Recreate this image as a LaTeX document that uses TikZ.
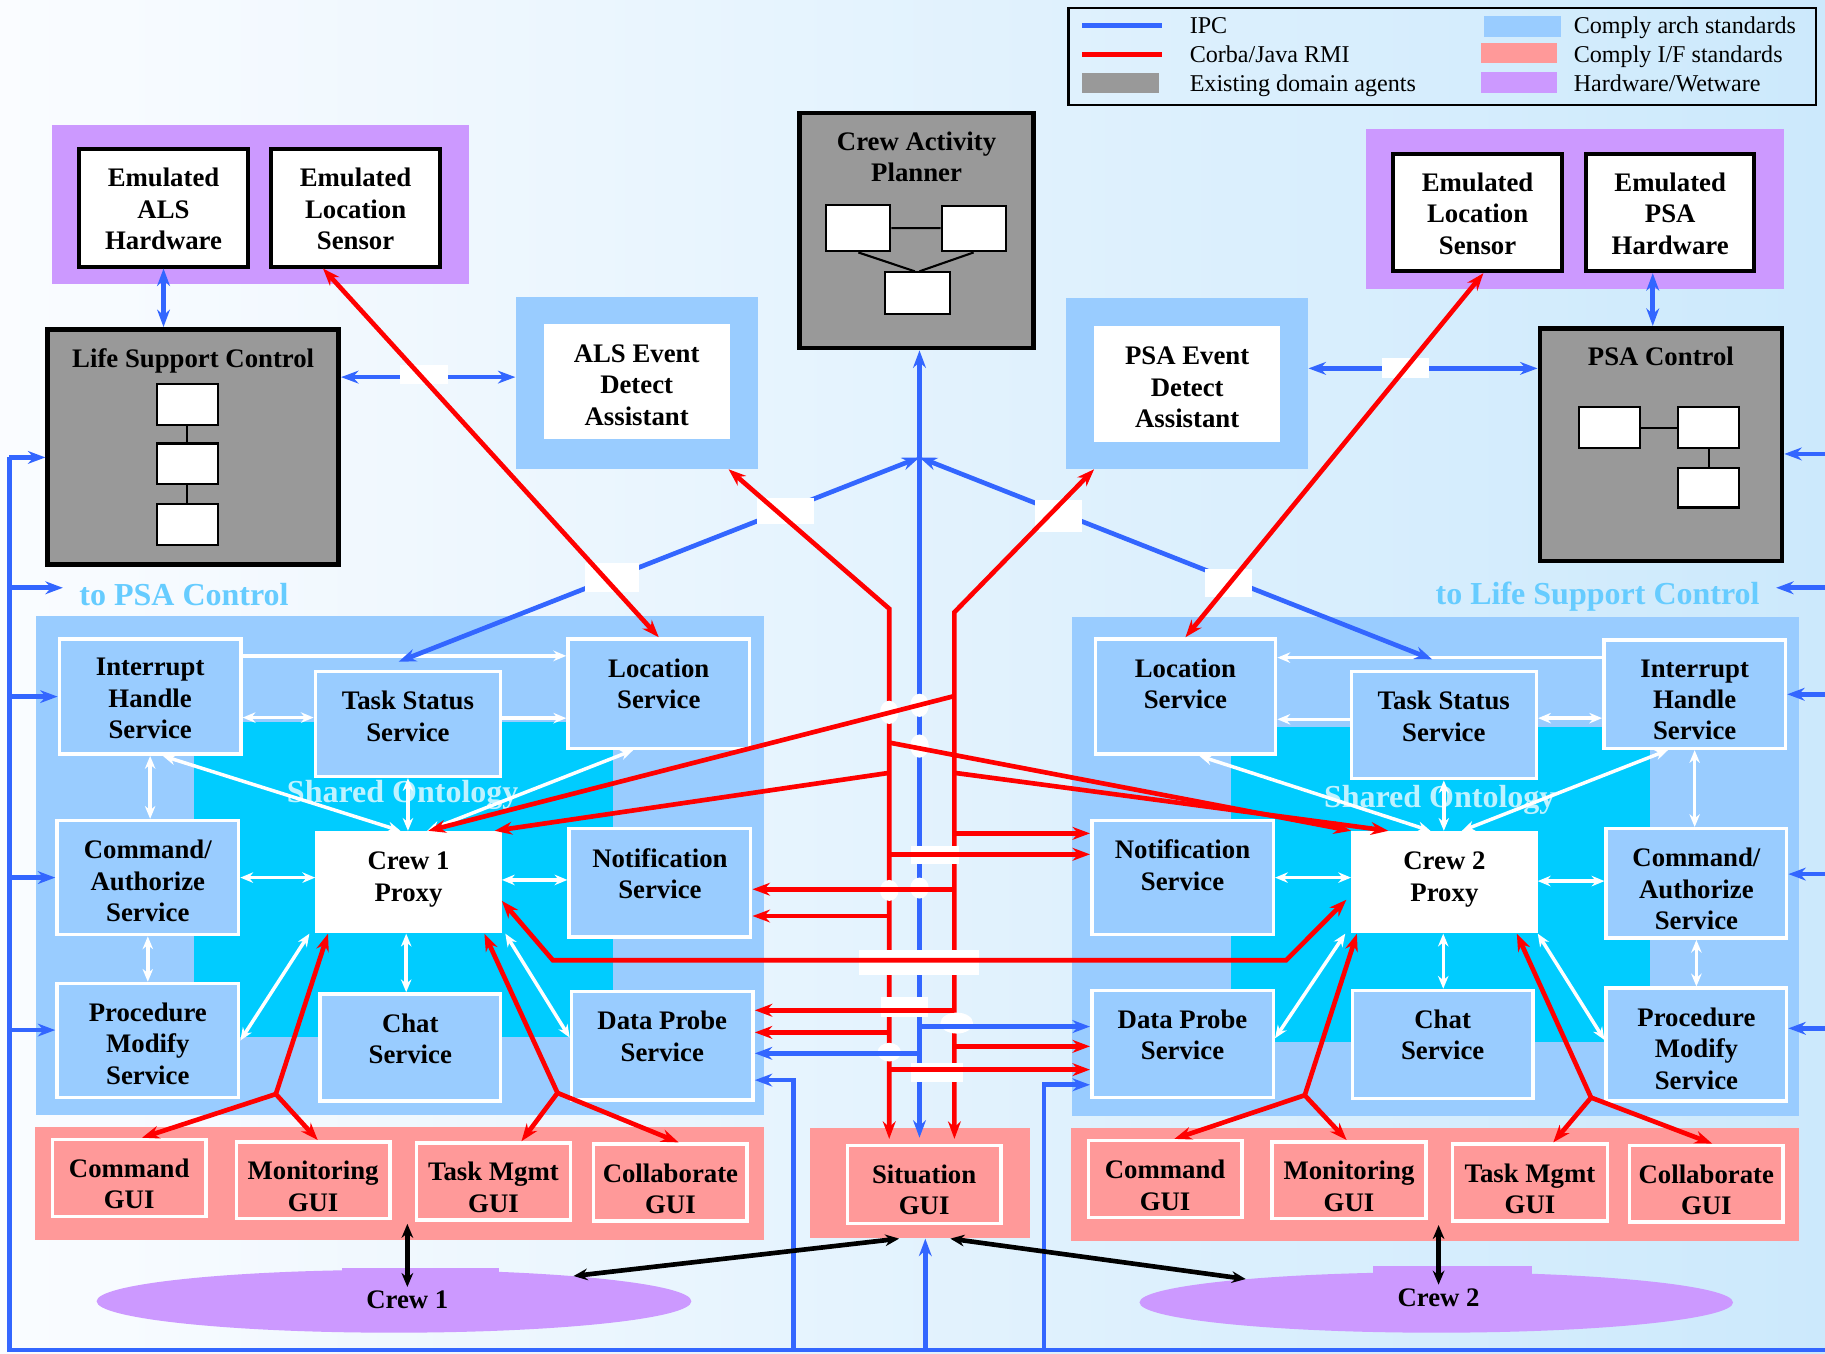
\documentclass[tikz,border=0pt]{standalone}
\usepackage{fontspec}
\setmainfont{Liberation Serif}
\usetikzlibrary{arrows.meta,shapes.geometric,calc}

\definecolor{archblue}{HTML}{99CCFF}
\definecolor{ifpink}{HTML}{FF9999}
\definecolor{hwpurple}{HTML}{CC99FF}
\definecolor{agentgray}{HTML}{999999}
\definecolor{ontocyan}{HTML}{00CCFF}
\definecolor{ipcblue}{HTML}{3366FF}
\definecolor{rmired}{HTML}{FF0000}
\definecolor{notecyan}{HTML}{66CCFF}
\definecolor{bgleft}{RGB}{250,252,255}
\definecolor{bgright}{RGB}{204,233,252}

\newcommand{\svcfont}{\bfseries\fontsize{23}{27}\selectfont}
\newcommand{\keyfont}{\fontsize{20.7}{25}\selectfont}
\newcommand{\notefont}{\bfseries\fontsize{27.5}{33}\selectfont}

\begin{document}
\begin{tikzpicture}[x=1pt, y=-1pt,
  lbl/.style={anchor=north, align=center, inner sep=0pt, font=\svcfont, yshift=-18pt},
  agent/.style={draw=black, line width=4pt, fill=agentgray, inner sep=0pt},
  emul/.style={draw=black, line width=3.4pt, fill=white, inner sep=0pt, minimum width=145, minimum height=101},
  mini/.style={draw=black, line width=1.8pt, fill=white, inner sep=0pt, minimum width=52, minimum height=35},
  frame/.style={fill=archblue, inner sep=0pt, minimum width=208},
  eda/.style={fill=white, inner sep=0pt, minimum width=160, minimum height=100},
  svc/.style={draw=white, line width=3pt, fill=archblue, inner sep=0pt, minimum width=156},
  proxy/.style={fill=white, inner sep=0pt, minimum width=160, minimum height=88},
  gui/.style={draw=white, line width=3pt, fill=ifpink, inner sep=0pt, minimum width=132, minimum height=66},
  pool/.style={ellipse, fill=hwpurple, inner sep=0pt},
  key/.style={anchor=base west, font=\keyfont, inner sep=0pt},
  note/.style={inner sep=0pt, font=\notefont, text=notecyan},
  onto/.style={draw=white, line width=3pt, >={Stealth[length=11pt,width=9pt]}},
  ipc/.style={draw=ipcblue, line width=4pt, >={Stealth[length=15pt,width=11pt]}},
  rmi/.style={draw=rmired, line width=4pt, >={Stealth[length=15pt,width=11pt]}},
  talk/.style={draw=black, line width=4pt, >={Stealth[length=12pt,width=10pt]}},
  gap/.style={fill=white}]
\useasboundingbox (0,0) rectangle (1568,1163);
% background and panels
\shade[left color=bgleft, right color=bgright] (0,0) rectangle (1568,1163);
\fill[hwpurple] (45,107) rectangle (403,244);
\fill[hwpurple] (1174,111) rectangle (1533,248);
\fill[archblue] (31,529) rectangle (656,958);
\fill[archblue] (921,530) rectangle (1546,959);
\fill[ontocyan] (167,620) rectangle (527,891);
\fill[ontocyan] (1058,625) rectangle (1418,895);
\fill[ifpink] (30,968) rectangle (656,1065);
\fill[ifpink] (920,969) rectangle (1546,1066);

% legend
\node[draw=black, line width=1.8pt, inner sep=0pt, minimum width=642, minimum height=83] (legend) at (1239,48.5) {};
\draw[ipcblue, line width=4.5pt] (930,22) -- (998,22);
\draw[rmired, line width=4.5pt] (930,47) -- (998,47);
\fill[agentgray] (930,63) rectangle (996,80);
\fill[archblue] (1275,14) rectangle (1341,32);
\fill[ifpink] (1272,37) rectangle (1338,54);
\fill[hwpurple] (1272,62) rectangle (1338,80);
\node[key] (kIPC) at (1022,29) {IPC};
\node[key] (kRMI) at (1022,54) {Corba/Java RMI};
\node[key] (kOld) at (1022,79) {Existing domain agents};
\node[key] (kArch) at (1352,29) {Comply arch standards};
\node[key] (kIF) at (1352,54) {Comply I/F standards};
\node[key] (kHW) at (1352,79) {Hardware/Wetware};

% life support side
\node[emul, label={[lbl]north:Emulated\\ALS\\Hardware}] (alsHW) at (140.5,178.5) {};
\node[emul, label={[lbl]north:Emulated\\Location\\Sensor}] (locSensL) at (305.5,178.5) {};
\node[agent, minimum width=250, minimum height=202, label={[lbl]north:Life Support Control}] (lsc) at (166,384) {};
\node[mini] (lsA) at (161,347.5) {};
\node[mini] (lsB) at (161,398.5) {};
\node[mini] (lsC) at (161,450.5) {};
\draw[line width=1.8pt] (lsA) -- (lsB) (lsB) -- (lsC);
\node[frame, minimum height=148] (alsFrame) at (547,329) {};
\node[eda, minimum height=99, label={[lbl]north:ALS Event\\Detect\\Assistant}] (alsEDA) at (547,327.5) {};

% planner
\node[agent, minimum width=201, minimum height=202, label={[lbl]north:Crew Activity\\Planner}] (cap) at (787.5,198) {};
\node[mini, minimum width=55, minimum height=40] (capA) at (737.5,196) {};
\node[mini, minimum width=55, minimum height=39] (capB) at (836.5,196.5) {};
\node[mini, minimum width=56, minimum height=36] (capC) at (788,252) {};
\draw[line width=1.8pt] (capA.east) -- (capA.east -| capB.west)
  (capA.south) -- ([xshift=-2pt]capC.north)
  (capB.south) -- ([xshift=2pt]capC.north);

% PSA side
\node[emul, label={[lbl]north:Emulated\\Location\\Sensor}] (locSensR) at (1269.5,182.5) {};
\node[emul, minimum width=144, label={[lbl]north:Emulated\\PSA\\Hardware}] (psaHW) at (1435,182.5) {};
\node[agent, minimum width=208, minimum height=200, label={[lbl]north:PSA Control}] (psaCtl) at (1427,382) {};
\node[mini] (psA) at (1383,367.5) {};
\node[mini] (psB) at (1468,367.5) {};
\node[mini, minimum height=34] (psC) at (1468,419) {};
\draw[line width=1.8pt] (psA) -- (psB) (psB) -- (psC);
\node[frame, minimum height=147] (psaFrame) at (1020,329.5) {};
\node[eda, label={[lbl]north:PSA Event\\Detect\\Assistant}] (psaEDA) at (1020,330) {};

\node[note, anchor=west] (toPSA) at (68,511) {to PSA Control};
\node[note, anchor=east] (toLSC) at (1512,513) {to Life Support Control};

% crew 1 services
\node[svc, minimum height=99, label={[lbl]north:Interrupt\\Handle\\Service}] (intL) at (129,598.5) {};
\node[svc, minimum width=159, minimum height=90, label={[lbl]north:Task Status\\Service}] (tskL) at (350.5,622) {};
\node[svc, minimum height=94, label={[lbl]north:Location\\Service}] (locL) at (566,596) {};
\node[svc, minimum height=98, label={[lbl]north:Command/\\Authorize\\Service}] (cmdL) at (127,754) {};
\node[proxy, label={[lbl]north:Crew 1\\Proxy}] (crew1) at (351,758) {};
\node[svc, minimum height=93, label={[lbl]north:Notification\\Service}] (ntfL) at (567,758.5) {};
\node[svc, minimum height=98, label={[lbl]north:Procedure\\Modify\\Service}] (prcL) at (127,894) {};
\node[svc, minimum width=155, minimum height=92, label={[lbl]north:Chat\\Service}] (chatL) at (352.5,900) {};
\node[svc, minimum height=93, label={[lbl]north:Data Probe\\Service}] (dpL) at (569,898.5) {};

% crew 2 services
\node[svc, minimum width=155, minimum height=99, label={[lbl]north:Location\\Service}] (locR) at (1018.5,598.5) {};
\node[svc, minimum width=159, minimum height=92, label={[lbl]north:Task Status\\Service}] (tskR) at (1240.5,623) {};
\node[svc, minimum height=93, label={[lbl]north:Interrupt\\Handle\\Service}] (intR) at (1456,596.5) {};
\node[svc, minimum height=98, label={[lbl]north:Notification\\Service}] (ntfR) at (1016,754) {};
\node[proxy, label={[lbl]north:Crew 2\\Proxy}] (crew2) at (1241,758) {};
\node[svc, minimum width=155, minimum height=94, label={[lbl]north:Command/\\Authorize\\Service}] (cmdR) at (1457.5,759) {};
\node[svc, minimum height=92, label={[lbl]north:Data Probe\\Service}] (dpR) at (1016,897) {};
\node[svc, minimum width=155, minimum height=93, label={[lbl]north:Chat\\Service}] (chatR) at (1239.5,897.5) {};
\node[svc, minimum width=155, minimum height=97, label={[lbl]north:Procedure\\Modify\\Service}] (prcR) at (1457.5,897.5) {};

\node[font=\notefont, text=white, text opacity=0.75] (ontoL) at (346,683) {Shared Ontology};
\node[font=\notefont, text=white, text opacity=0.75] (ontoR) at (1237,687) {Shared Ontology};

% GUIs
\node[gui, label={[lbl]north:Command\\GUI}] (cgL) at (111,1012) {};
\node[gui, label={[lbl]north:Monitoring\\GUI}] (mgL) at (269,1014) {};
\node[gui, label={[lbl]north:Task Mgmt\\GUI}] (tgL) at (424,1015) {};
\node[gui, label={[lbl]north:Collaborate\\GUI}] (colL) at (576,1016) {};
\node[gui, label={[lbl]north:Command\\GUI}] (cgR) at (1001,1013) {};
\node[gui, label={[lbl]north:Monitoring\\GUI}] (mgR) at (1159,1014) {};
\node[gui, minimum width=133, label={[lbl]north:Task Mgmt\\GUI}] (tgR) at (1314.5,1016) {};
\node[gui, label={[lbl]north:Collaborate\\GUI}] (colR) at (1466,1017) {};
\node[fill=ifpink, inner sep=0pt, minimum width=189, minimum height=95] (sitFrame) at (790.5,1016.5) {};
\node[gui, minimum height=67, label={[lbl]north:Situation\\GUI}] (sitGUI) at (794,1017.5) {};

% crews
\fill[hwpurple] (294,1089) rectangle (429,1101);
\fill[hwpurple] (1180,1088) rectangle (1316,1101);
\node[pool, minimum width=511, minimum height=54] (pool1) at (338.5,1118) {};
\node[pool, minimum width=510, minimum height=52] (pool2) at (1234,1119) {};
\node[font=\svcfont] (crew1txt) at (350,1117) {Crew 1};
\node[font=\svcfont] (crew2txt) at (1236,1115) {Crew 2};

% shared ontology links, crew 1
\draw[onto,->] ([yshift=35pt]intL.east) -- ([yshift=35pt]intL.east -| locL.west);
\draw[onto,<->] ([yshift=-18pt]intL.east) -- ([yshift=-18pt]intL.east -| tskL.west);
\draw[onto,->] ([yshift=5pt]tskL.east) -- ([yshift=5pt]tskL.east -| locL.west);
\draw[onto,<->] (intL.south) -- (intL.south |- cmdL.north);
\draw[onto,<->] ([xshift=11pt]intL.south) -- ([xshift=-7pt]crew1.north);
\draw[onto,<->] (tskL.south) -- (tskL.south |- crew1.north);
\draw[onto,<->] ([xshift=16pt]crew1.north) -- ([xshift=-22pt]locL.south);
\draw[onto,<->] (cmdL.east) -- (cmdL.east -| crew1.west);
\draw[onto,<->] ([yshift=2pt]crew1.east) -- ([yshift=2pt]crew1.east -| ntfL.west);
\draw[onto,<->] (cmdL.south) -- (prcL.north);
\draw[onto,<->] (prcL.east) -- ([xshift=-5pt]crew1.south west);
\draw[onto,<->] ([xshift=-2pt]crew1.south) -- ([xshift=-2pt]crew1.south |- chatL.north);
\draw[onto,<->] ([xshift=3pt]crew1.south east) -- ([yshift=7pt]dpL.west);

% shared ontology links, crew 2
\draw[onto,->] ([yshift=31.5pt]intR.west) -- ([yshift=31.5pt]intR.west -| locR.east);
\draw[onto,->] ([yshift=5pt]tskR.west) -- ([yshift=5pt]tskR.west -| locR.east);
\draw[onto,<->] ([yshift=6pt]tskR.east) -- ([yshift=6pt]tskR.east -| intR.west);
\draw[onto,<->] ([xshift=12pt]locR.south) -- ([xshift=-12pt]crew2.north);
\draw[onto,<->] (tskR.south) -- (tskR.south |- crew2.north);
\draw[onto,<->] ([xshift=15pt]crew2.north) -- ([xshift=-23pt]intR.south);
\draw[onto,<->] (intR.south) -- (intR.south |- cmdR.north);
\draw[onto,<->] (ntfR.east) -- (ntfR.east -| crew2.west);
\draw[onto,<->] ([yshift=1pt]crew2.east) -- ([yshift=1pt]crew2.east -| cmdR.west);
\draw[onto,<->] ([xshift=-1pt]crew2.south) -- ([xshift=-1pt]crew2.south |- chatR.north);
\draw[onto,<->] (crew2.south east) -- ([yshift=4pt]prcR.west);
\draw[onto,<->] (cmdR.south) -- (prcR.north);
\draw[onto,<->] ([yshift=5pt]dpR.east) -- ([xshift=-5pt]crew2.south west);

% IPC links
\coordinate (hub) at (790,393);
\coordinate (busTL) at (8,393);
\coordinate (busBL) at (8,1160);
\coordinate (busBR) at (1570,1160);
\coordinate (busR) at (1572,0);
\coordinate (dropL) at (682,1160);
\coordinate (dropS) at (795,1160);
\coordinate (dropR) at (897,1160);
\draw[ipc,<->] (alsHW.south) -- (alsHW.south |- lsc.north);
\draw[ipc,<->] ([xshift=-15pt]psaHW.south) -- ([xshift=-15pt]psaHW.south |- psaCtl.north);
\draw[ipc,<->] ([yshift=5pt]alsFrame.west -| lsc.east) -- ([yshift=5pt]alsFrame.west);
\draw[ipc,<->] ([yshift=13pt]psaFrame.east) -- ([yshift=13pt]psaFrame.east -| psaCtl.west);
\draw[ipc,<->] (hub |- cap.south) -- ([yshift=5pt]hub |- sitGUI.north);
\draw[ipc,<->] (hub) -- ([xshift=-8pt,yshift=7pt]tskL.north);
\draw[ipc,<->] (hub) -- ([xshift=-10pt,yshift=9pt]tskR.north);
\draw[ipc] (busTL) -- (busBL) -- (busBR);
\draw[ipc,->] (busTL) -- ([yshift=-9pt]lsc.west);
\draw[ipc,->] ([yshift=6pt]toPSA.west -| busTL) -- ([xshift=-14pt,yshift=6pt]toPSA.west);
\draw[ipc,->] (intL.west -| busTL) -- (intL.west);
\draw[ipc,->] (cmdL.west -| busTL) -- (cmdL.west);
\draw[ipc,->] ([yshift=9pt]prcL.west -| busTL) -- ([yshift=9pt]prcL.west);
\draw[ipc,->] ([yshift=-8pt]psaCtl.east -| busR) -- ([yshift=-8pt]psaCtl.east);
\draw[ipc,->] ([yshift=8pt]toLSC.east -| busR) -- ([xshift=14pt,yshift=8pt]toLSC.east);
\draw[ipc,->] (intR.east -| busR) -- (intR.east);
\draw[ipc,->] ([yshift=8pt]cmdR.east -| busR) -- ([yshift=8pt]cmdR.east);
\draw[ipc,->] ([yshift=14pt]prcR.east -| busR) -- ([yshift=14pt]prcR.east);
\draw[ipc,->] (dropL) |- ([yshift=-29.5pt]dpL.east);
\draw[ipc,->] (dropR) |- ([yshift=-35pt]dpR.west);
\draw[ipc,->] (dropS) -- (dropS |- sitFrame.south);

% crossings
\fill[gap] (344,314) rectangle (385,330);
\fill[gap] (1187,308) rectangle (1228,325);
\fill[gap] (503,484) rectangle (549,509);
\fill[gap] (650,428) rectangle (699,450);
\fill[gap] (889,430) rectangle (930,457);
\fill[gap] (1035,489) rectangle (1076,513);

% Corba / Java RMI links
\coordinate (bendL) at (764,523);
\coordinate (bendR) at (820,526);
\draw[rmi,<->] ([xshift=-28pt]locSensL.south) -- (locL.north);
\draw[rmi,<->] ([xshift=5pt]locSensR.south) -- (locR.north);
\draw[rmi,<->] ([xshift=79pt]alsFrame.south) -- (bendL) -- ([yshift=4pt]bendL |- sitGUI.north);
\draw[rmi,<->] ([xshift=-80pt]psaFrame.south) -- (bendR) -- ([yshift=4pt]bendR |- sitGUI.north);

\fill[gap] (738,816) rectangle (841,838);
\fill[gap] (783,727) rectangle (824,742);
\fill[gap] (757,857) rectangle (797,874);
\fill[gap] (783,913) rectangle (827,930);
\fill[gap] (764,612) ellipse [x radius=8pt, y radius=10pt];
\fill[gap] (790,606) ellipse [x radius=8pt, y radius=10pt];
\fill[gap] (790,641) ellipse [x radius=8pt, y radius=10pt];
\fill[gap] (764,765) ellipse [x radius=8pt, y radius=9pt];
\fill[gap] (790,763) ellipse [x radius=8pt, y radius=9pt];
\fill[gap] (764,904) ellipse [x radius=10pt, y radius=8pt];
\fill[gap] (822,879) ellipse [x radius=14pt, y radius=9pt];

\draw[rmi,->] ($(bendR)+(0,72)$) -- ([xshift=17pt]crew1.north);
\draw[rmi,->] ($(bendL)+(0,141)$) -- ([xshift=74pt]crew1.north);
\draw[rmi,->] ($(bendL)+(0,115)$) -- (crew2.north west);
\draw[rmi,->] ($(bendR)+(0,138)$) -- ([xshift=32pt]crew2.north west);
\draw[rmi,->] ([yshift=38pt]ntfR.west -| bendR) -- ([yshift=38pt]ntfR.west);
\draw[rmi,->] ([yshift=20pt]ntfR.west -| bendL) -- ([yshift=20pt]ntfR.west);
\draw[rmi,->] ([yshift=-5.5pt]ntfL.east -| bendR) -- ([yshift=-5.5pt]ntfL.east);
\draw[rmi,->] ([yshift=-28.5pt]ntfL.east -| bendL) -- ([yshift=-28.5pt]ntfL.east);
\draw[rmi,->] ([yshift=30.5pt]dpL.east -| bendR) -- ([yshift=30.5pt]dpL.east);
\draw[rmi,->] ([yshift=11.5pt]dpL.east -| bendL) -- ([yshift=11.5pt]dpL.east);
\draw[rmi,->] ([yshift=-2pt]dpR.west -| bendR) -- ([yshift=-2pt]dpR.west);
\draw[rmi,->] ([yshift=-22pt]dpR.west -| bendL) -- ([yshift=-22pt]dpR.west);
\draw[ipc,->] ([yshift=-6.5pt]dpL.east -| hub) -- ([yshift=-6.5pt]dpL.east);
\draw[ipc,->] ([yshift=15pt]dpR.west -| hub) -- ([yshift=15pt]dpR.west);

\coordinate (kinkA) at (475,825);
\coordinate (kinkB) at (1105,825);
\draw[rmi,<->] ([yshift=-16pt]crew1.east) -- (kinkA) -- (kinkB) -- ([xshift=-4pt,yshift=-15pt]crew2.west);

% proxies to GUIs
\coordinate (fork1) at (237,940);
\coordinate (fork2) at (479,939);
\coordinate (fork3) at (1121,941);
\coordinate (fork4) at (1367,943);
\draw[rmi,->] (fork1) -- ([xshift=11pt]crew1.south west);
\draw[rmi,->] (fork1) -- ([xshift=11pt]cgL.north);
\draw[rmi,->] (fork1) -- ([xshift=4pt]mgL.north);
\draw[rmi,->] (fork2) -- ([xshift=-15pt]crew1.south east);
\draw[rmi,->] (fork2) -- ([xshift=24pt]tgL.north);
\draw[rmi,->] (fork2) -- ([xshift=7pt]colL.north);
\draw[rmi,->] (fork3) -- ([xshift=5pt]crew2.south west);
\draw[rmi,->] (fork3) -- ([xshift=8pt]cgR.north);
\draw[rmi,->] (fork3) -- ([xshift=-2pt]mgR.north);
\draw[rmi,->] (fork4) -- ([xshift=-18pt]crew2.south east);
\draw[rmi,->] (fork4) -- ([xshift=20pt]tgR.north);
\draw[rmi,->] (fork4) -- ([xshift=5pt]colR.north);

% crews to GUIs
\draw[talk,<->] ([yshift=-2pt]tgL.south west -| crew1txt) -- (crew1txt.north);
\draw[talk,<->] ([yshift=-2pt]tgR.south west -| crew2txt) -- (crew2txt.north);
\draw[talk,<->] ([xshift=-18pt]sitFrame.south) -- (pool1.8);
\draw[talk,<->] ([xshift=26pt]sitFrame.south) -- (pool2.173);
\end{tikzpicture}
\end{document}
